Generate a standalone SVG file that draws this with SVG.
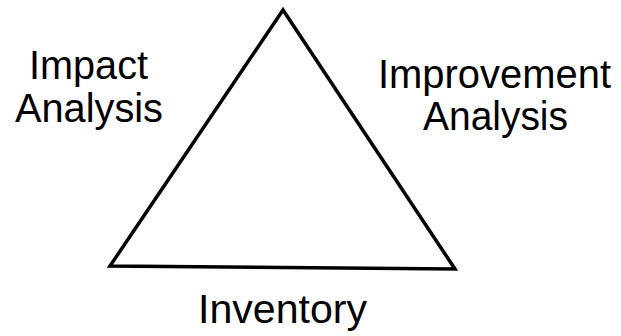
<svg xmlns="http://www.w3.org/2000/svg" width="621" height="336" viewBox="0 0 621 336">
<style>
.lbl{font-family:"Liberation Sans",Arial,sans-serif;font-size:40px;fill:#000;text-anchor:start}
.tri{fill:none;stroke:#000;stroke-width:3.5;stroke-linejoin:miter}
</style>
<rect width="621" height="336" fill="#fff"/>
<g id="connectors">
<polygon class="tri" points="283,10 110,266 455,269"/>
</g>
<g id="impact">
<text class="lbl" x="29" y="79" textLength="119" lengthAdjust="spacingAndGlyphs">Impact</text>
<text class="lbl" x="15" y="122" textLength="148" lengthAdjust="spacingAndGlyphs">Analysis</text>
</g>
<g id="improvement">
<text class="lbl" x="378" y="88" textLength="233" lengthAdjust="spacingAndGlyphs">Improvement</text>
<text class="lbl" x="423" y="130" textLength="145" lengthAdjust="spacingAndGlyphs">Analysis</text>
</g>
<g id="inventory">
<text class="lbl" x="198" y="323" textLength="169" lengthAdjust="spacingAndGlyphs">Inventory</text>
</g>
</svg>
